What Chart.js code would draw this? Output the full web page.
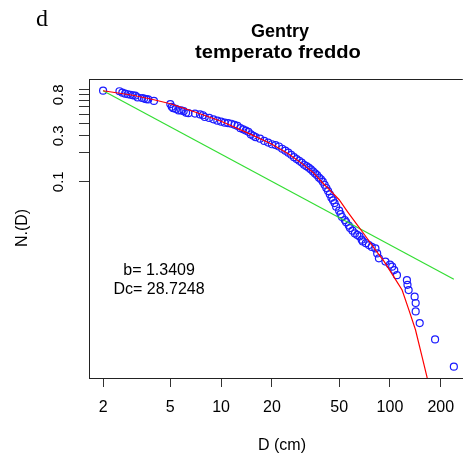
<!DOCTYPE html>
<html><head><meta charset="utf-8">
<script src="https://cdn.jsdelivr.net/npm/chart.js@4/dist/chart.umd.min.js"></script>
<style>html,body{margin:0;padding:0;background:#fff;overflow:hidden}#wrap{width:468px;height:461px;position:relative}</style>
</head><body><div id="wrap"><canvas id="c" width="468" height="461"></canvas></div>
<script>
// ---- data ----
const xTickValues = [2, 5, 10, 20, 50, 100, 200];
const yTickValues = [0.1, 0.2, 0.3, 0.4, 0.5, 0.6, 0.7, 0.8, 0.9];
const yTickLabelValues = [0.1, 0.3, 0.8];
const yTickLabels = ['0.1', '0.3', '0.8'];

const obsD = [2.0,2.5,2.6,2.7,2.8,2.9,3.0,3.1,3.2,3.4,3.5,3.6,3.7,4.0,5.0,5.1,5.2,5.4,5.6,5.8,6.0,6.2,6.4,7.0,7.5,7.8,8.0,8.5,9.0,9.5,10,10.5,11,11.5,12,12.5,13,13.5,14,14.5,15,15.5,16,17,18,19,20,21,22,23,24,25,26,27,28,29,30,31,32,33,34,35,36,37,38,39,40,41,42,43,44,45,46,47,48,50,51,52,54,55,57,58,60,62,64,66,68,69,72,75,78,82,84,86,94,100,103,106,110,126,127,129,140,142,142,150,185,239];
const obsN = [0.881,0.87,0.84,0.82,0.81,0.80,0.79,0.785,0.75,0.74,0.73,0.72,0.715,0.69,0.64,0.60,0.58,0.57,0.55,0.55,0.54,0.52,0.515,0.51,0.50,0.49,0.47,0.46,0.445,0.43,0.42,0.41,0.405,0.40,0.39,0.38,0.36,0.35,0.34,0.33,0.31,0.30,0.29,0.28,0.265,0.255,0.245,0.24,0.232,0.22,0.21,0.20,0.19,0.18,0.172,0.165,0.158,0.15,0.145,0.14,0.134,0.128,0.122,0.117,0.11,0.106,0.10,0.093,0.086,0.08,0.074,0.068,0.064,0.06,0.055,0.05,0.046,0.043,0.04,0.038,0.035,0.033,0.031,0.029,0.028,0.027,0.025,0.024,0.023,0.022,0.021,0.0203,0.018,0.016,0.0148,0.0138,0.0131,0.0121,0.0107,0.0095,0.0085,0.0075,0.0064,0.0055,0.0045,0.0034,0.0023,0.0012];

const fitD = [2,3,4,5,7,10,15,20,25,30,35,40,45,50,56,63,70,80.7,92.5,105,118,130,141.6,155,165.6,175];
const fitN = [0.88,0.79,0.71,0.645,0.53,0.425,0.31,0.245,0.195,0.155,0.125,0.097,0.079,0.065,0.049,0.037,0.0288,0.0203,0.0148,0.0104,0.0075,0.00455,0.0029,0.00152,0.00094,0.0006];

const powD = [2, 239];
const powN = [0.881, 0.0097];

const titleLines = ['Gentry', 'temperato freddo'];
const annot = ['b= 1.3409', 'Dc= 28.7248'];
const annotAt = [[4.29, 0.0118], [4.29, 0.0075]];

// ---- build chart ----
const pts = (xs, ys) => xs.map((x, i) => ({x: x, y: ys[i]}));
const SANS = '"Liberation Sans", Arial, Helvetica, sans-serif';

const decor = {
  id: 'decor',
  afterDraw(chart) {
    const ctx = chart.ctx, a = chart.chartArea;
    const xs = chart.scales.x, ys = chart.scales.y;
    ctx.save();
    // top border of the box
    ctx.strokeStyle = '#222'; ctx.lineWidth = 1;
    ctx.beginPath(); ctx.moveTo(a.left, a.top + 0.5); ctx.lineTo(a.right, a.top + 0.5); ctx.stroke();
    ctx.fillStyle = '#000';
    // y tick labels (rotated like R)
    ctx.font = '15px ' + SANS; ctx.textAlign = 'center'; ctx.textBaseline = 'middle';
    yTickLabelValues.forEach((v, i) => {
      const py = ys.getPixelForValue(v);
      ctx.save(); ctx.translate(59, py); ctx.rotate(-Math.PI / 2); ctx.fillText(yTickLabels[i], 0, 0); ctx.restore();
    });
    // axis titles
    ctx.font = '16px ' + SANS;
    ctx.save(); ctx.translate(23, 228); ctx.rotate(-Math.PI / 2); ctx.fillText('N.(D)', 0, 0); ctx.restore();
    ctx.fillText('D (cm)', 282, 446);
    // main title
    ctx.font = 'bold 18px ' + SANS;
    ctx.fillText(titleLines[0], 280, 32);
    ctx.save(); ctx.translate(278, 53); ctx.scale(1.12, 1); ctx.fillText(titleLines[1], 0, 0); ctx.restore();
    // panel letter
    ctx.font = '24px "Liberation Serif", "Times New Roman", serif';
    ctx.textAlign = 'left'; ctx.textBaseline = 'alphabetic';
    ctx.fillText('d', 36, 26);
    // annotations
    ctx.font = '16px ' + SANS; ctx.textAlign = 'center'; ctx.textBaseline = 'middle';
    annot.forEach((t, i) => {
      ctx.fillText(t, xs.getPixelForValue(annotAt[i][0]), ys.getPixelForValue(annotAt[i][1]));
    });
    ctx.restore();
  }
};

new Chart(document.getElementById('c'), {
  type: 'scatter',
  data: {
    datasets: [
      {label: 'weibull', data: pts(fitD, fitN), showLine: true, borderColor: '#ff0000', borderWidth: 1.2, pointRadius: 0, fill: false, tension: 0},
      {label: 'power', data: pts(powD, powN), showLine: true, borderColor: '#33dd33', borderWidth: 1.2, pointRadius: 0, fill: false},
      {label: 'obs', data: pts(obsD, obsN), showLine: false, pointStyle: 'circle', pointRadius: 3.5, borderColor: '#1c1cff', backgroundColor: 'rgba(0,0,0,0)', borderWidth: 1.2}
    ]
  },
  options: {
    responsive: false, animation: false, devicePixelRatio: 1,
    layout: {padding: {top: 79, left: 0, right: 0, bottom: 0}},
    plugins: {legend: {display: false}, tooltip: {enabled: false}, title: {display: false}},
    scales: {
      x: {
        type: 'logarithmic', min: 1.65, max: 270,
        afterBuildTicks: s => { s.ticks = xTickValues.map(v => ({value: v})); },
        afterFit: s => { s.height = 83; },
        ticks: {callback: v => String(v), autoSkip: false, maxRotation: 0, minRotation: 0, color: '#000', font: {family: SANS, size: 16}, padding: 11},
        grid: {drawOnChartArea: false, drawTicks: true, tickLength: 9, color: '#333', lineWidth: 1},
        border: {display: true, color: '#222', width: 1}
      },
      y: {
        type: 'logarithmic', min: 0.000915, max: 1.166,
        afterBuildTicks: s => { s.ticks = yTickValues.map(v => ({value: v})); },
        afterFit: s => { s.width = 89; },
        ticks: {display: false},
        grid: {drawOnChartArea: false, drawTicks: true, tickLength: 10, color: '#333', lineWidth: 1},
        border: {display: true, color: '#222', width: 1}
      }
    }
  },
  plugins: [decor]
});
</script>
</body></html>
